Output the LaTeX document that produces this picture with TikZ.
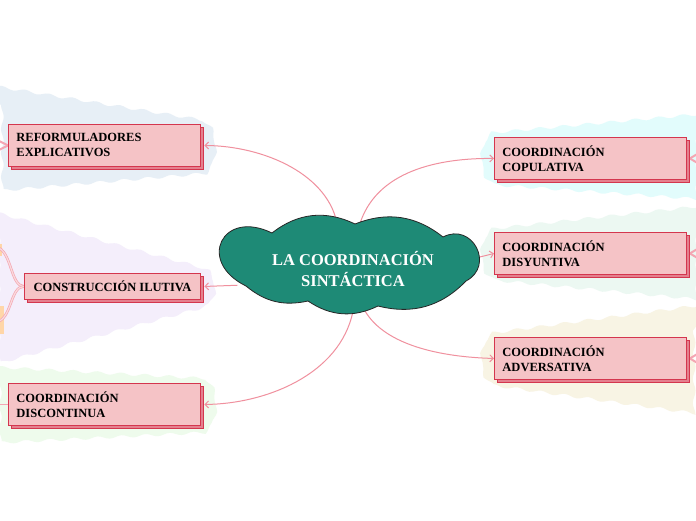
\documentclass[tikz,border=0pt]{standalone}
\usepackage{fontspec}
\setmainfont{Liberation Serif}
\usetikzlibrary{shapes.geometric,arrows.meta,decorations.pathmorphing,shadows,calc}
\definecolor{boxfill}{HTML}{F5C3C6}
\definecolor{boxline}{HTML}{D4364E}
\definecolor{shadowfill}{HTML}{E4808E}
\definecolor{linkpink}{HTML}{F0909E}
\definecolor{stubpink}{HTML}{F4A6B3}
\definecolor{hubfill}{HTML}{1E8A76}
\definecolor{fanA}{HTML}{E7EFF6}
\definecolor{fanB}{HTML}{F4EEFB}
\definecolor{fanC}{HTML}{EEFBEC}
\definecolor{fanD}{HTML}{E2FCFC}
\definecolor{fanE}{HTML}{ECF8F2}
\definecolor{fanF}{HTML}{F8F4E4}
\definecolor{peach}{HTML}{FFD6A8}
\pgfdeclarelayer{fans}
\pgfdeclarelayer{links}
\pgfdeclarelayer{cloudl}
\pgfsetlayers{fans,links,cloudl,main}
\begin{document}
\begin{tikzpicture}[x=1pt,y=-1pt,
  topic/.style={rectangle, draw=boxline, line width=0.9pt, fill=boxfill, anchor=north west,
    general shadow={fill=shadowfill, draw=boxline, line width=0.9pt, shadow xshift=3pt, shadow yshift=-3pt},
    font=\bfseries\fontsize{12.5}{15}\selectfont, text=black, inner xsep=8pt, inner ysep=0pt},
  twoline/.style={topic, minimum width=192pt, minimum height=42pt, text width=176pt, align=left},
  link/.style={draw=linkpink, line width=1pt, -{Straight Barb[length=3.5pt,width=7pt]}},
  stub/.style={draw=stubpink, line width=2pt},
  dstub/.style={draw=stubpink, line width=0.7pt, double=boxfill!60, double distance=1.2pt},
  fan/.style={decorate, decoration={snake, amplitude=1.4pt, segment length=24pt}},
]
\useasboundingbox (0,0) rectangle (696,520);

% topics
\node[twoline] (ref) at (8,124) {REFORMULADORES\\EXPLICATIVOS};
\node[topic, minimum width=176pt, minimum height=26pt, inner xsep=4pt, align=center] (ilu) at (24,273) {CONSTRUCCIÓN ILUTIVA};
\node[twoline] (disc) at (8,383) {COORDINACIÓN\\DISCONTINUA};
\node[twoline] (cop) at (494,137) {COORDINACIÓN\\COPULATIVA};
\node[twoline] (dis) at (494,232) {COORDINACIÓN\\DISYUNTIVA};
\node[twoline] (adv) at (494,337) {COORDINACIÓN\\ADVERSATIVA};

% central topic (text) with cloud outline
\node[ellipse, minimum width=250pt, minimum height=84pt, inner sep=0pt,
  text=white, font=\bfseries\fontsize{16.5}{21}\selectfont, align=center]
  (hub) at (353,269) {LA COORDINACIÓN\\SINTÁCTICA};

\begin{pgfonlayer}{cloudl}
  \filldraw[fill=hubfill, draw=black!85, line width=0.8pt]
    (272,233) to[bend left=32] (355,224)
    to[bend left=30] (443,237)
    to[bend left=90, looseness=1.7] (466,281)
    to[bend left=30] (378,306)
    to[bend left=30] (308,301)
    to[bend left=26] (246,286)
    to[bend left=90, looseness=2.4] cycle;
\end{pgfonlayer}

\begin{pgfonlayer}{fans}
  \fill[white] (0,0) rectangle (696,520);
  \fill[fanA, fan] (-6,86) -- (196,119) .. controls (214,122) and (214,170) .. (196,173) -- (-6,190) -- cycle;
  \fill[fanB, fan] (-6,212) -- (196,266) .. controls (214,270) and (214,304) .. (196,307) -- (-6,362) -- cycle;
  \fill[fanC, fan] (-6,367) -- (196,378) .. controls (214,380) and (214,430) .. (196,432) -- (-6,442) -- cycle;
  \fill[fanD, fan] (702,114) -- (500,132) .. controls (482,135) and (482,181) .. (500,184) -- (702,198) -- cycle;
  \fill[fanE, fan] (702,206) -- (500,228) .. controls (482,231) and (482,276) .. (500,279) -- (702,298) -- cycle;
  \fill[fanF, fan] (702,305) -- (500,332) .. controls (482,335) and (482,381) .. (500,384) -- (702,412) -- cycle;
  \fill[peach] (0,244) rectangle (2,256);
  \fill[peach] (0,306) rectangle (4,334);
\end{pgfonlayer}

\begin{pgfonlayer}{links}
  \draw[link] (hub.110) .. controls (330,175) and (265,146) .. ($(ref.east)+(3.5,0)$);
  \draw[link] (hub.188) -- ($(ilu.east)+(3.5,0)$);
  \draw[link] (hub.270) .. controls (340,375) and (265,404) .. ($(disc.east)+(3.5,0)$);
  \draw[link] (hub.82) .. controls (375,170) and (440,158) .. (cop.west);
  \draw[link] (hub.5) -- (dis.west);
  \draw[link] (hub.286) .. controls (385,345) and (440,357) .. (adv.west);
  % stubs toward off-picture children
  \draw[stub] ($(cop.east)+(3,0)$) -- ++(10,-6);
  \draw[stub] ($(cop.east)+(3,0)$) -- ++(10,6);
  \draw[stub] ($(dis.east)+(3,0)$) -- ++(10,-6);
  \draw[stub] ($(dis.east)+(3,0)$) -- ++(10,6);
  \draw[stub] ($(adv.east)+(3,0)$) -- ++(10,-6);
  \draw[stub] ($(adv.east)+(3,0)$) -- ++(10,6);
  \draw[stub] (ref.west) -- ++(-10,-5);
  \draw[stub] (ref.west) -- ++(-10,5);
  \draw[draw=stubpink, line width=0.8pt] (disc.west) -- ++(-10,0);
  \draw[dstub] (ilu.west) .. controls (10,286) and (12,250) .. (-4,247);
  \draw[dstub] (ilu.west) .. controls (10,286) and (12,320) .. (-4,322);
\end{pgfonlayer}
\end{tikzpicture}
\end{document}
